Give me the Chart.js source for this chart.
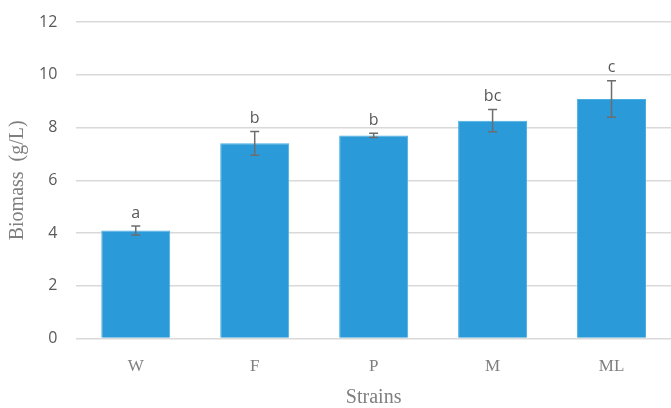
<!DOCTYPE html>
<html>
<head>
<meta charset="utf-8">
<script src="https://cdn.jsdelivr.net/npm/chart.js@4"></script>
<style>
  html, body { margin: 0; padding: 0; background: #fff; }
  #wrap { width: 671px; height: 408px; }
</style>
</head>
<body>
<div id="wrap"><canvas id="biomassChart" width="671" height="408"></canvas></div>
<script>
const strains = ['W', 'F', 'P', 'M', 'ML'];
const biomass = [4.1, 7.4, 7.7, 8.26, 9.08];
const errors = [0.17, 0.45, 0.08, 0.42, 0.69];
const groups = ['a', 'b', 'b', 'bc', 'c'];
const yTicks = [0, 2, 4, 6, 8, 10, 12];

// draws the error bars and significance letters on top of each bar
const errorBarPlugin = {
  id: 'errorBars',
  afterDatasetsDraw(chart) {
    const ctx = chart.ctx;
    const x = chart.scales.x;
    const y = chart.scales.y;
    ctx.save();
    biomass.forEach((v, i) => {
      const cx = x.getPixelForValue(i);
      const top = y.getPixelForValue(v + errors[i]);
      const bot = y.getPixelForValue(v - errors[i]);
      ctx.strokeStyle = '#6d6d6d';
      ctx.lineWidth = 1.5;
      ctx.beginPath();
      ctx.moveTo(cx, top); ctx.lineTo(cx, bot);
      ctx.moveTo(cx - 4.5, top); ctx.lineTo(cx + 4.5, top);
      ctx.moveTo(cx - 4.5, bot); ctx.lineTo(cx + 4.5, bot);
      ctx.stroke();
      ctx.fillStyle = '#595959';
      ctx.font = '16px "Open Sans"';
      ctx.textAlign = 'center';
      ctx.textBaseline = 'bottom';
      ctx.fillText(groups[i], cx, top - 5);
    });
    ctx.restore();
  }
};

const ctx = document.getElementById('biomassChart').getContext('2d');
new Chart(ctx, {
  type: 'bar',
  data: {
    labels: strains,
    datasets: [{
      data: biomass,
      backgroundColor: '#2a9ad8',
      borderColor: '#4aaee3',
      borderWidth: 1,
      barPercentage: 0.58,
      categoryPercentage: 1
    }]
  },
  options: {
    responsive: false,
    animation: false,
    layout: { padding: { top: 22, right: 0, bottom: 0, left: 6 } },
    plugins: {
      legend: { display: false },
      tooltip: { enabled: false }
    },
    scales: {
      x: {
        grid: { display: false, drawTicks: true, tickLength: 11 },
        border: { display: false },
        ticks: { color: '#7f7f7f', padding: 7, font: { family: '"Liberation Serif"', size: 17 } },
        title: {
          display: true, text: 'Strains', color: '#7f7f7f',
          font: { family: '"Liberation Serif"', size: 20 }, padding: { top: 2, bottom: -2 }
        }
      },
      y: {
        min: 0, max: 12,
        afterBuildTicks(scale) { scale.ticks = yTicks.map(v => ({ value: v })); },
        grid: { color: '#d9d9d9', lineWidth: 1.5, drawTicks: true, tickLength: 14, tickColor: 'rgba(0,0,0,0)' },
        border: { display: false },
        ticks: { color: '#595959', padding: 5, font: { family: '"Open Sans"', size: 16 } },
        title: {
          display: true, text: 'Biomass  (g/L)', color: '#7f7f7f',
          font: { family: '"Liberation Serif"', size: 20 }, padding: { top: 0, bottom: 4 }
        }
      }
    }
  },
  plugins: [errorBarPlugin]
});
</script>
</body>
</html>
